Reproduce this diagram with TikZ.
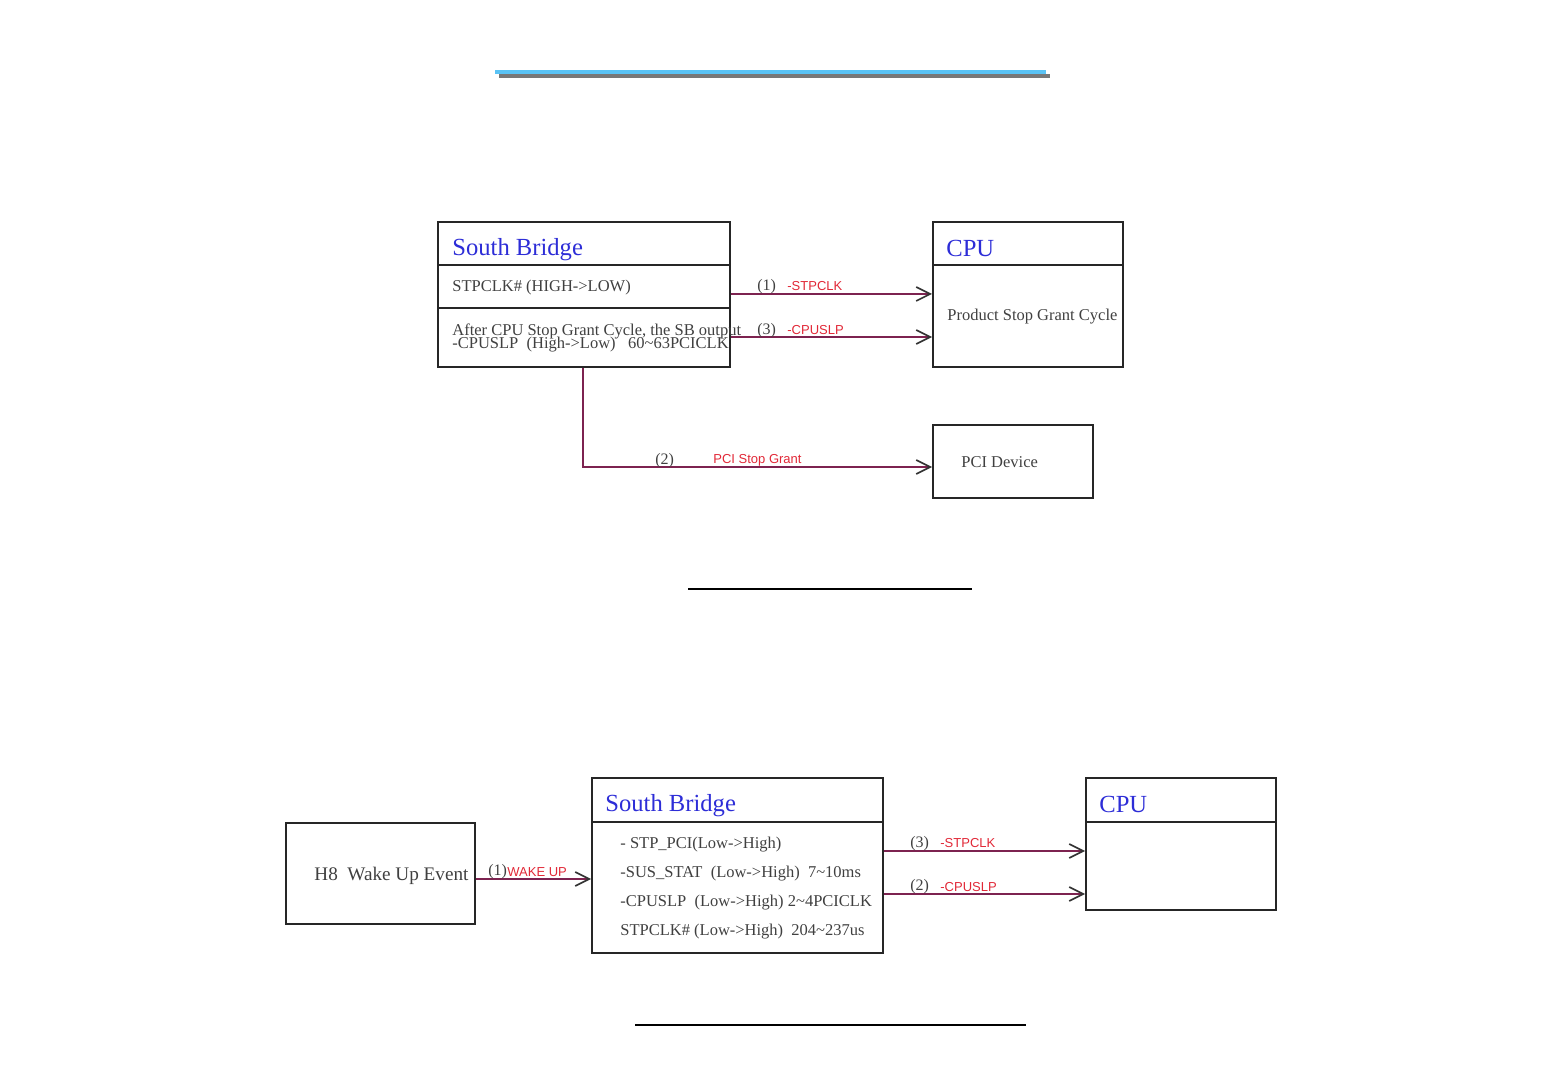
\documentclass[tikz,border=0pt]{standalone}
\usepackage{fontspec}
\setmainfont{Liberation Serif}
\newfontfamily\labelfont{Liberation Sans}
\usetikzlibrary{arrows.meta}
\definecolor{sigline}{RGB}{125,35,80}
\definecolor{siglabel}{RGB}{225,40,55}
\definecolor{titleblue}{RGB}{45,45,215}
\definecolor{ruleblue}{RGB}{90,195,245}
\definecolor{rulegray}{RGB}{120,120,120}
\newcommand{\px}{0.5pt}
\tikzset{
  box/.style={draw=black!85,line width=1pt,anchor=north west,inner sep=0pt},
  divider/.style={draw=black!85,line width=1pt},
  boxtitle/.style={anchor=west,inner sep=0pt,text=titleblue,font=\fontsize{12.3}{14}\selectfont},
  boxtext/.style={anchor=west,inner sep=0pt,text=black!75,font=\fontsize{8.25}{9}\selectfont},
  sig/.style={draw=sigline,line width=1.2pt,-{Straight Barb[length=7pt,width=7pt,line width=0.8pt,color=black!80]}},
  signum/.style={anchor=west,inner sep=0pt,text=black!75,font=\fontsize{8}{9}\selectfont},
  signame/.style={anchor=west,inner sep=0pt,text=siglabel,font=\labelfont\fontsize{6.5}{7}\selectfont},
  sepline/.style={draw=black,line width=0.8pt}
}
\begin{document}
\begin{tikzpicture}[x=\px,y=-\px]
\useasboundingbox (0,0) rectangle (1560,1080);
%header rule
\draw[rulegray,line width=2pt] (499,76) -- (1050,76);
\draw[ruleblue,line width=2.2pt] (495,72) -- (1046,72);

%stop grant: boxes
\node[box,minimum width=292*\px,minimum height=145*\px] (sbA) at (437,221) {};
\node[box,minimum width=190*\px,minimum height=145*\px] (cpuA) at (932,221) {};
\node[box,minimum width=160*\px,minimum height=73*\px] (pci) at (932,424) {};
\draw[divider] (sbA.west |- 0,265) -- (sbA.east |- 0,265);
\draw[divider] (sbA.west |- 0,308) -- (sbA.east |- 0,308);
\draw[divider] (cpuA.west |- 0,265) -- (cpuA.east |- 0,265);
%stop grant: texts
\node[boxtitle] (sbAtitle) at (452,250) {South Bridge};
\node[boxtitle] (cpuAtitle) at (946,248) {CPU};
\node[boxtext] (sbAstp) at (452,288) {STPCLK\# (HIGH->LOW)};
\node[boxtext] (sbAafter) at (452,331) {After CPU Stop Grant Cycle, the SB output};
\node[boxtext] (sbAslp) at (452,345) {-CPUSLP\ \ (High->Low)\ \ \ 60\textasciitilde63PCICLK};
\node[boxtext] (cpuAcycle) at (947,317) {Product Stop Grant Cycle};
\node[boxtext] (pcitext) at (961,462) {PCI Device};
%stop grant: signals
\draw[sig] (sbA.east |- 0,294) -- (cpuA.west |- 0,294);
\draw[sig] (sbA.east |- 0,337) -- (cpuA.west |- 0,337);
\draw[sig] (sbA.south -| 583,0) |- (pci.west |- 0,467);
\node[signum] (nA1) at (757,287) {(1)};
\node[signame] (sA1) at (787,286) {-STPCLK};
\node[signum] (nA3) at (757,331) {(3)};
\node[signame] (sA3) at (787,330) {-CPUSLP};
\node[signum] (nA2) at (655,461) {(2)};
\node[signame] (sA2) at (713,460) {PCI Stop Grant};
\draw[sepline] (688,589) -- (972,589);

%wake up: boxes
\node[box,minimum width=189*\px,minimum height=101*\px] (hei) at (285,822) {};
\node[box,minimum width=291*\px,minimum height=175*\px] (sbB) at (591,777) {};
\node[box,minimum width=190*\px,minimum height=132*\px] (cpuB) at (1085,777) {};
\draw[divider] (sbB.west |- 0,822) -- (sbB.east |- 0,822);
\draw[divider] (cpuB.west |- 0,822) -- (cpuB.east |- 0,822);
%wake up: texts
\node[boxtext,font=\fontsize{9.6}{10}\selectfont] (heitext) at (314,876) {H8\ \ Wake Up Event};
\node[boxtitle] (sbBtitle) at (605,806) {South Bridge};
\node[boxtitle] (cpuBtitle) at (1099,804) {CPU};
\node[boxtext] (sbBpci) at (620,845) {- STP\_PCI(Low->High)};
\node[boxtext] (sbBsus) at (620,874) {-SUS\_STAT\ \ (Low->High)\ \ 7\textasciitilde10ms};
\node[boxtext] (sbBslp) at (620,903) {-CPUSLP\ \ (Low->High) 2\textasciitilde4PCICLK};
\node[boxtext] (sbBstp) at (620,932) {STPCLK\# (Low->High)\ \ 204\textasciitilde237us};
%wake up: signals
\draw[sig] (hei.east |- 0,879) -- (sbB.west |- 0,879);
\draw[sig] (sbB.east |- 0,851) -- (cpuB.west |- 0,851);
\draw[sig] (sbB.east |- 0,894) -- (cpuB.west |- 0,894);
\node[signum] (nB1) at (488,872) {(1)};
\node[signame] (sB1) at (507,872) {WAKE UP};
\node[signum] (nB3) at (910,844) {(3)};
\node[signame] (sB3) at (940,843) {-STPCLK};
\node[signum] (nB2) at (910,887) {(2)};
\node[signame] (sB2) at (940,887) {-CPUSLP};
\draw[sepline] (635,1025) -- (1026,1025);
\end{tikzpicture}
\end{document}
